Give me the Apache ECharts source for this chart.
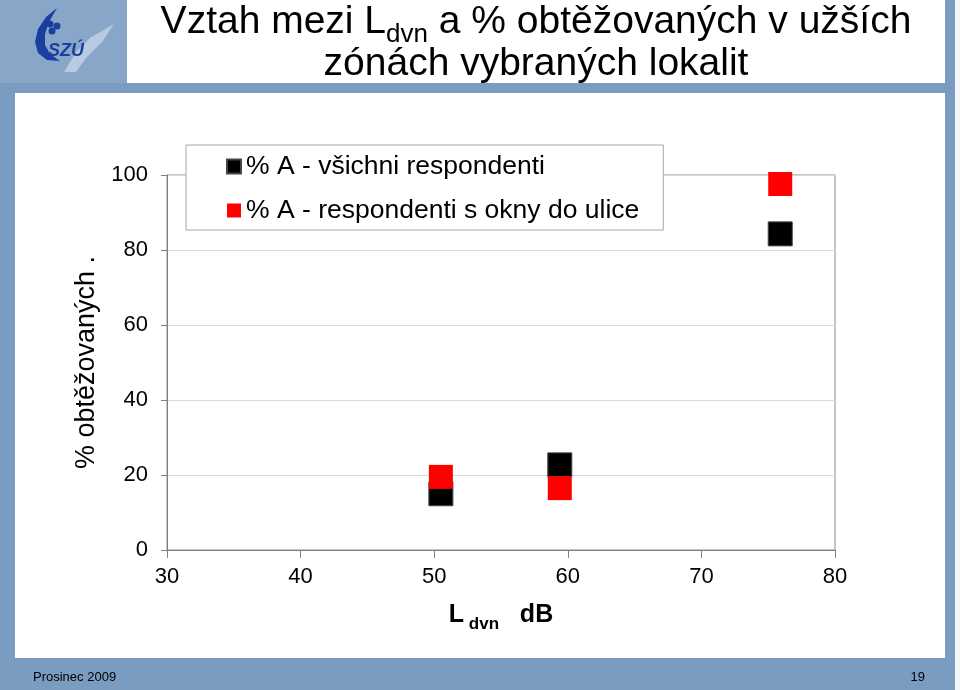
<!DOCTYPE html>
<html>
<head>
<meta charset="utf-8">
<script src="https://cdn.jsdelivr.net/npm/echarts@6/dist/echarts.min.js"></script>
<style>
  html, body { margin: 0; padding: 0; background: #7b9cc1; }
  #chart { width: 960px; height: 690px; }
</style>
</head>
<body>
<div id="chart"></div>
<script>
// hladina Ldvn (dB) pro vybrané lokality
const ldvn = [50.5, 59.4, 75.9];
// % obtěžovaných
const allRespondents = [15.0, 22.7, 84.3];
const streetWindows = [19.5, 16.5, 97.6];

const seriesNames = ['% A - všichni respondenti', '% A - respondenti s okny do ulice'];
const xTicks = { min: 30, max: 80, interval: 10 };
const yTicks = { min: 0, max: 100, interval: 20 };

const font = 'Liberation Sans, Arial, sans-serif';
const blue = '#7b9cc1';

const chart = echarts.init(document.getElementById('chart'));

const option = {
  backgroundColor: blue,
  animation: false,
  textStyle: { fontFamily: font },
  graphic: [
    // bílé plochy slidu
    { type: 'rect', z: -10, shape: { x: 127, y: 0, width: 818, height: 83 }, style: { fill: '#fff' } },
    { type: 'rect', z: -10, shape: { x: 15, y: 93, width: 930, height: 565 }, style: { fill: '#fff' } },
    { type: 'rect', z: -10, shape: { x: 955, y: 0, width: 5, height: 690 }, style: { fill: '#f4f6f9' } },
    // logo SZÚ
    { type: 'rect', z: -9, shape: { x: 0, y: 0, width: 127, height: 83 }, style: { fill: '#88a6c8' } },
    {
      type: 'polygon', z: -8,
      shape: { points: [[57, 8], [46, 17], [38, 29], [35, 42], [38, 53], [47, 60], [60, 61], [50, 54], [45, 45], [45, 34], [49, 22]] },
      style: { fill: '#1b3fa0' }
    },
    {
      type: 'polygon', z: -8,
      shape: { points: [[64, 72], [76, 52], [90, 38], [114, 24], [102, 42], [86, 58], [76, 72]] },
      style: { fill: '#b9cbe0' }
    },
    { type: 'circle', z: -7, shape: { cx: 50, cy: 24, r: 3.5 }, style: { fill: '#1b3fa0' } },
    { type: 'circle', z: -7, shape: { cx: 57, cy: 26, r: 3.5 }, style: { fill: '#1b3fa0' } },
    { type: 'circle', z: -7, shape: { cx: 52, cy: 31, r: 3.5 }, style: { fill: '#1b3fa0' } },
    {
      type: 'text', z: -7, x: 48, y: 42,
      style: { text: 'SZÚ', fill: '#1b3fa0', font: 'italic bold 18px ' + font }
    },
    // nadpis
    {
      type: 'text', x: 536, y: 3,
      style: {
        text: '{t|Vztah mezi L}{s|dvn}{t| a % obtěžovaných v užších}\n{t|zónách vybraných lokalit}',
        align: 'center',
        rich: {
          t: { fontSize: 39, lineHeight: 42, verticalAlign: 'top', fill: '#000', fontFamily: font },
          s: { fontSize: 26, lineHeight: 14, padding: [19, 0, 0, 0], verticalAlign: 'top', fill: '#000', fontFamily: font }
        }
      }
    },
    // patička
    {
      type: 'text', x: 33, y: 671,
      style: { text: 'Prosinec 2009', fill: '#000', font: '13px Liberation Sans Narrow, ' + font }
    },
    {
      type: 'text', x: 925, y: 671,
      style: { text: '19', align: 'right', fill: '#000', font: '13px Liberation Sans Narrow, ' + font }
    }
  ],
  legend: {
    orient: 'vertical',
    left: 186,
    top: 145,
    padding: [8, 24, 6, 40],
    itemGap: 17,
    itemWidth: 14,
    itemHeight: 14,
    icon: 'rect',
    backgroundColor: '#fff',
    borderColor: '#a6a6a6',
    borderWidth: 1,
    textStyle: { fontSize: 26.5, color: '#000', fontFamily: font },
    data: seriesNames
  },
  grid: {
    left: 167,
    right: 125,
    top: 175,
    bottom: 140,
    show: true,
    borderColor: '#8c8c8c',
    borderWidth: 1,
    backgroundColor: 'transparent'
  },
  xAxis: {
    type: 'value',
    min: xTicks.min,
    max: xTicks.max,
    interval: xTicks.interval,
    axisLine: { show: true, lineStyle: { color: '#808080', width: 1 } },
    axisTick: { show: true, length: 8, lineStyle: { color: '#808080' } },
    splitLine: { show: false },
    axisLabel: { fontSize: 22, color: '#000', margin: 16 },
    name: '{b|L}{s| dvn}{b|   dB}',
    nameLocation: 'middle',
    nameGap: 53,
    nameTextStyle: {
      rich: {
        b: { fontSize: 25, fontWeight: 'bold', color: '#000', lineHeight: 34, verticalAlign: 'top' },
        s: { fontSize: 17, fontWeight: 'bold', color: '#000', lineHeight: 17, padding: [13, 0, 0, 0], verticalAlign: 'top' }
      }
    }
  },
  yAxis: {
    type: 'value',
    min: yTicks.min,
    max: yTicks.max,
    interval: yTicks.interval,
    axisLine: { show: true, lineStyle: { color: '#808080', width: 1 } },
    axisTick: { show: true, length: 6, lineStyle: { color: '#808080' } },
    splitLine: { show: true, lineStyle: { color: '#d9d9d9', width: 1 } },
    axisLabel: { fontSize: 22, color: '#000', margin: 19 },
    name: '% obtěžovaných .',
    nameLocation: 'middle',
    nameGap: 65,
    nameTextStyle: { fontSize: 27, color: '#000' }
  },
  series: [
    {
      name: seriesNames[0],
      type: 'scatter',
      symbol: 'rect',
      symbolSize: 24,
      itemStyle: { color: '#000', borderColor: '#444', borderWidth: 1, opacity: 1 },
      data: ldvn.map((x, i) => [x, allRespondents[i]])
    },
    {
      name: seriesNames[1],
      type: 'scatter',
      symbol: 'rect',
      symbolSize: 24,
      itemStyle: { color: '#ff0000', opacity: 1 },
      data: ldvn.map((x, i) => [x, streetWindows[i]])
    }
  ]
};

chart.setOption(option);
</script>
</body>
</html>
